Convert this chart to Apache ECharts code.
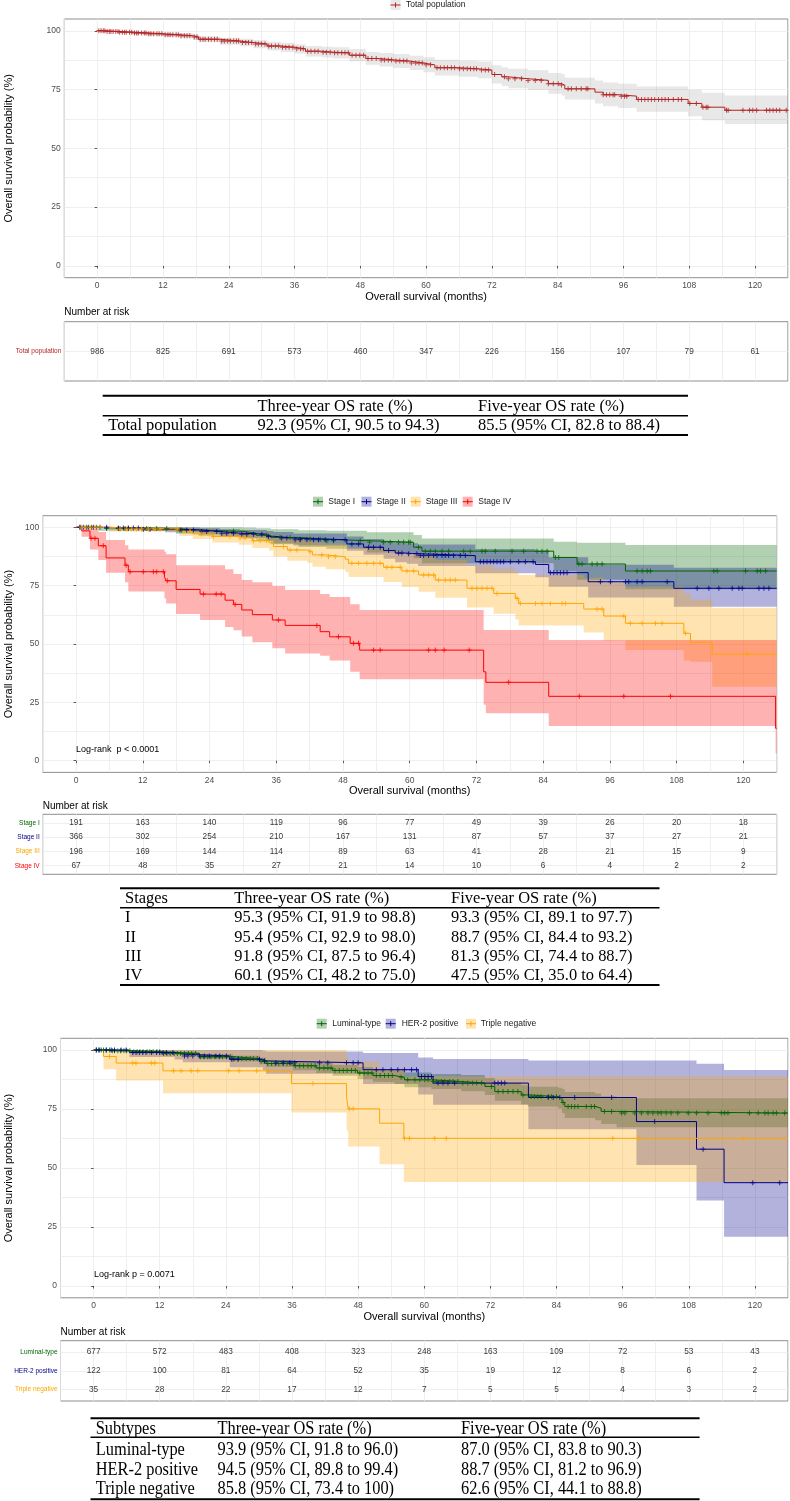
<!DOCTYPE html>
<html><head><meta charset="utf-8">
<script src="https://cdn.jsdelivr.net/npm/echarts@6/dist/echarts.min.js"></script>
<style>html,body{margin:0;padding:0;background:#fff}#c{width:790px;height:1501px}</style>
</head><body><div id="c"></div>
<script>
// ---------------- DATA ----------------
const xTicks = [0, 12, 24, 36, 48, 60, 72, 84, 96, 108, 120];
const yTicks = [0, 25, 50, 75, 100];
const xLabel = 'Overall survival (months)';
const yLabel = 'Overall survival probability (%)';

// Panel 1: total population
const p1Names = ['Total population'];
const p1Time = [0, 1.5, 4, 6.5, 9, 12, 15, 17.5, 18.5, 22.4, 26, 28.5, 31, 33.5, 36, 38, 41, 43, 46, 49, 51.5, 54, 57, 59.5, 61.6, 66, 69.5, 72, 73.8, 75, 78.6, 82.3, 84.7, 85.3, 90.8, 92.3, 95, 98.4, 107.8, 110.3, 114.5, 126];
const p1Surv = [100, 99.7, 99.4, 99.1, 98.7, 98.3, 97.9, 97.3, 96.4, 95.6, 95.0, 94.4, 93.5, 93.0, 92.3, 91.3, 90.9, 90.6, 89.6, 88.2, 87.6, 87.1, 86.3, 85.5, 84.3, 83.8, 83.3, 81.4, 80.4, 79.6, 78.9, 77.5, 76.9, 75.3, 73.9, 72.8, 72.2, 70.8, 69.1, 67.5, 66.2, 66.2];
const p1Low = [100, 99.4, 98.9, 98.4, 97.9, 97.4, 96.8, 96.1, 95.1, 94.1, 93.4, 92.6, 91.6, 91.0, 90.3, 89.1, 88.6, 88.2, 87.0, 85.5, 84.8, 84.2, 83.3, 82.4, 81.0, 80.4, 79.8, 77.6, 76.5, 75.6, 74.8, 73.2, 72.5, 70.8, 69.1, 67.9, 67.2, 65.6, 63.6, 61.9, 60.4, 60.4];
const p1Up = [100, 100, 99.9, 99.7, 99.5, 99.2, 99.0, 98.5, 97.7, 97.0, 96.6, 96.1, 95.3, 94.9, 94.3, 93.5, 93.2, 93.0, 92.2, 91.0, 90.5, 90.1, 89.4, 88.7, 87.7, 87.3, 86.9, 85.3, 84.5, 83.8, 83.2, 82.0, 81.5, 80.0, 78.9, 78.0, 77.5, 76.3, 74.9, 73.6, 72.5, 72.5];
const p1Cens = [0.3, 0.7, 1.1, 1.4, 1.8, 2.2, 2.5, 2.9, 3.4, 3.8, 4.1, 4.6, 5.0, 5.3, 5.9, 6.3, 6.8, 7.2, 7.5, 8.1, 8.6, 8.9, 9.4, 9.8, 10.3, 10.9, 11.3, 11.8, 12.4, 12.9, 13.3, 13.8, 14.4, 14.8, 15.3, 15.9, 16.4, 16.9, 17.7, 18.2, 18.8, 19.3, 19.7, 20.3, 20.8, 21.4, 21.9, 22.7, 23.2, 23.8, 24.3, 24.9, 25.4, 25.8, 26.5, 27.1, 27.6, 28.2, 28.9, 29.4, 30.0, 30.6, 31.3, 31.8, 32.5, 33.1, 33.8, 34.4, 35.0, 35.7, 36.4, 37.1, 37.6, 38.4, 39.0, 39.7, 40.3, 41.2, 41.8, 42.5, 43.3, 43.9, 44.6, 45.2, 45.8, 46.5, 47.2, 47.9, 48.6, 49.4, 50.1, 50.9, 51.8, 52.4, 53.1, 53.7, 54.5, 55.2, 55.9, 56.5, 57.3, 58.1, 58.7, 59.3, 60.0, 60.8, 62.0, 62.6, 63.3, 63.9, 64.6, 65.2, 66.1, 66.8, 67.5, 68.1, 68.7, 69.2, 70.1, 70.8, 71.4, 72.5, 74.3, 75.0, 76.2, 77.4, 78.6, 79.9, 81.0, 82.3, 83.2, 84.1, 84.7, 85.9, 86.5, 87.4, 88.3, 89.2, 89.5, 92.3, 92.9, 93.5, 94.1, 94.4, 95.6, 96.2, 96.6, 98.7, 99.3, 99.9, 100.5, 101.1, 101.7, 102.4, 103.0, 103.6, 104.2, 105.1, 106.0, 106.6, 108.1, 109.3, 110.5, 111.1, 111.4, 114.8, 115.1, 117.8, 119.0, 119.6, 120.3, 122.1, 122.7, 123.3, 123.9, 124.5, 125.7];
const p1Risk = [986, 825, 691, 573, 460, 347, 226, 156, 107, 79, 61];

// Panel 2: stages
const stageNames = ['Stage I', 'Stage II', 'Stage III', 'Stage IV'];
const st1Time = [0, 4, 18, 22, 30, 32.4, 35, 40, 45, 52.3, 60.7, 62.2, 85.9, 90.1, 98.8, 126];
const st1Surv = [100, 99.5, 98.9, 98.3, 97.5, 96.6, 95.7, 94.9, 94.3, 93.6, 91.5, 89.8, 87.1, 84.3, 81.3, 81.3];
const st1Low = [100, 98.5, 97.3, 96.4, 95.2, 94.0, 92.8, 91.6, 90.8, 89.2, 86.8, 84.6, 81.2, 77.6, 73.5, 73.5];
const st1Up = [100, 100, 100, 100, 99.9, 99.6, 99.2, 98.8, 98.5, 97.9, 96.7, 95.2, 93.8, 93.4, 92.4, 92.4];
const st1Cens = [0.7, 1.9, 2.8, 3.7, 5.5, 7.6, 7.9, 8.8, 9.4, 12.7, 14.5, 16.3, 19, 28.3, 34.3, 36.7, 38.5, 40.3, 42.1, 43.9, 45.1, 46.3, 51.1, 52.8, 55.3, 56.5, 58, 58.9, 59.8, 60.1, 61.6, 62.8, 63.7, 64.6, 65.8, 67, 69.7, 70.9, 73, 73.6, 75.4, 78.4, 80.5, 82.9, 83.8, 84.7, 86.2, 86.8, 90.4, 91, 92.8, 93.7, 94.6, 100.9, 101.8, 102.7, 103.3, 114.7, 115.3, 120.4, 122.5, 123.1, 124];
const st2Time = [0, 6, 12, 16, 22.3, 25.9, 29.5, 34.3, 35.5, 39.1, 48.7, 51.7, 55.3, 57.4, 59.5, 61.5, 71.8, 82.6, 85, 92.1, 107.5, 126];
const st2Surv = [100, 99.7, 99.2, 98.9, 98.2, 97.5, 97.1, 96.2, 95.4, 94.7, 92.9, 91.5, 90.1, 89.0, 88.7, 87.9, 85.3, 84.1, 80.6, 76.7, 73.9, 73.9];
const st2Low = [100, 99.2, 98.4, 97.9, 97.0, 96.1, 95.5, 94.3, 93.1, 92.2, 90.0, 88.3, 86.6, 85.0, 84.4, 83.4, 80.3, 78.6, 74.6, 70.0, 66.0, 66.0];
const st2Up = [100, 100, 100, 99.9, 99.6, 99.2, 98.9, 98.4, 98.0, 97.4, 96.1, 95.0, 94.0, 93.5, 93.2, 92.7, 90.7, 90.0, 87.2, 84.0, 82.7, 82.7];
const st2Cens = [0.7, 1.3, 2.2, 3.1, 4.3, 5.5, 7.6, 8.5, 9.4, 10.3, 11.2, 12.1, 13.3, 18.7, 19.9, 21.1, 22.6, 23.5, 25.3, 26.2, 27.1, 28.3, 29.8, 30.7, 31.9, 33.4, 34.6, 37, 37.9, 39.4, 40.3, 41.5, 42.7, 43.6, 44.8, 46.3, 48.4, 49.6, 50.8, 52.6, 53.5, 54.7, 56.2, 58, 58.6, 59.8, 61.3, 61.9, 62.5, 63.4, 64.3, 64.9, 65.8, 66.4, 67, 67.9, 69.1, 70, 72.7, 73.3, 73.9, 74.5, 75.1, 75.7, 76.3, 76.9, 78.1, 79.6, 80.8, 82.2, 85.3, 85.9, 86.5, 87.1, 87.7, 88.3, 94.3, 96.1, 98.8, 99.4, 100.9, 101.8, 106.3, 111.7, 113.8, 115.6, 118, 119.2, 119.8, 122.8, 123.7, 124.6];
const st3Time = [0, 6.1, 18.6, 21, 24.5, 29.3, 31.7, 34.7, 35.5, 38, 41.6, 42.5, 44.9, 48.4, 49, 55.3, 58.6, 61.6, 64.6, 70.3, 75.1, 79, 79.6, 91.3, 94.9, 98.8, 109.3, 110.5, 114.4, 126];
const st3Surv = [100, 99.3, 98.2, 97.2, 96.1, 95.4, 94.3, 93.4, 91.8, 90.3, 89.6, 88.2, 87.4, 86.4, 84.6, 82.9, 81.3, 79.6, 77.4, 73.9, 71.7, 69.6, 67.4, 65.0, 62.0, 58.9, 54.6, 50.7, 45.7, 45.7];
const st3Low = [100, 98.2, 96.3, 95.0, 93.5, 92.6, 91.2, 90.1, 87.5, 85.7, 84.8, 83.1, 82.1, 80.9, 78.7, 76.6, 74.4, 72.4, 69.8, 65.7, 63.0, 60.5, 57.9, 55.0, 51.5, 47.5, 43.0, 42.4, 31.7, 31.7];
const st3Up = [100, 100, 99.9, 99.4, 98.8, 98.3, 97.6, 97.0, 96.4, 95.2, 94.7, 93.6, 93.1, 92.2, 91.0, 89.8, 88.7, 87.5, 86.0, 83.8, 82.3, 80.9, 79.6, 78.4, 76.5, 74.6, 71.7, 69.0, 65.6, 65.6];
const st3Cens = [1, 1.6, 2.5, 3.4, 4.3, 7.9, 9.1, 10, 10.9, 11.8, 13, 14.2, 15.1, 18.2, 20.5, 22.6, 24.7, 27.7, 29.5, 30.4, 31.9, 33.1, 34.3, 37.3, 38.5, 39.7, 42.1, 44.2, 45.4, 46.6, 49.6, 50.8, 52.3, 53.5, 54.7, 55.9, 56.8, 58.3, 59.5, 60.7, 62.5, 63.4, 64.3, 65.2, 66.4, 67.3, 68.2, 71.2, 72.1, 73, 73.9, 74.8, 75.7, 79.3, 79.9, 82.6, 83.8, 85.3, 87.4, 88, 93.7, 94.6, 98.5, 99.7, 101.8, 104.2, 105.4, 109.6, 120.7];
const st4Time = [0, 1, 2.5, 4, 5.4, 8.8, 9.4, 15.9, 16.2, 18, 22.3, 26.8, 28.3, 29.8, 31.7, 35.3, 37.6, 43.9, 45.6, 49.3, 51, 73.3, 73.7, 85, 125.8, 126];
const st4Surv = [100, 98.5, 95.3, 92.1, 86.9, 83.8, 81.0, 78.8, 77.1, 73.4, 71.4, 68.8, 67.0, 64.6, 62.6, 60.3, 58.0, 55.3, 53.1, 50.3, 47.4, 38.1, 33.6, 27.6, 13.9, 13.9];
const st4Low = [100, 96.0, 90.5, 86.0, 80.5, 76.5, 72.5, 69.5, 67.4, 62.9, 60.3, 57.3, 55.9, 53.2, 50.8, 48.2, 45.9, 45.0, 43.0, 38.1, 34.9, 24.0, 20.3, 14.9, 3.2, 3.2];
const st4Up = [100, 100, 99.5, 98.0, 94.6, 92.3, 90.5, 89.5, 88.5, 83.8, 83.8, 82.0, 80.0, 77.4, 76.5, 74.9, 73.2, 71.5, 70.2, 67.1, 64.6, 56.0, 56.0, 51.7, 51.7, 51.7];
const st4Cens = [2.7, 3.4, 4.9, 9.0, 9.7, 12.1, 13.9, 14.5, 15.7, 16.4, 22.9, 25.2, 26.1, 28.6, 36.4, 43.3, 47.2, 49.9, 50.8, 53.5, 54.7, 63.4, 64.6, 66.2, 70.7, 77.8, 90.5, 98.5, 106.9];
const stRisk1 = [191, 163, 140, 119, 96, 77, 49, 39, 26, 20, 18];
const stRisk2 = [366, 302, 254, 210, 167, 131, 87, 57, 37, 27, 21];
const stRisk3 = [196, 169, 144, 114, 89, 63, 41, 28, 21, 15, 9];
const stRisk4 = [67, 48, 35, 27, 21, 14, 10, 6, 4, 2, 2];

// Panel 3: subtypes
const subNames = ['Luminal-type', 'HER-2 positive', 'Triple negative'];
const lumTime = [0, 3, 7.1, 12.2, 19.2, 25.3, 30.1, 31.3, 36.2, 40.4, 43.4, 47.9, 50.7, 54.6, 56.4, 61.3, 66.7, 71, 72.8, 77.6, 78.8, 84.3, 85, 85.5, 91, 92.1, 94.9, 126];
const lumSurv = [100, 99.7, 99.3, 98.6, 97.2, 96.4, 95.4, 94.3, 93.4, 92.4, 91.4, 90.3, 89.2, 88.5, 87.4, 86.7, 86.0, 84.6, 82.4, 81.0, 80.3, 79.6, 77.8, 76.1, 75.4, 74.0, 73.3, 73.3];
const lumLow = [100, 99.3, 98.8, 97.9, 96.2, 95.2, 94.0, 92.8, 91.5, 90.3, 89.1, 87.8, 86.5, 85.6, 84.3, 83.5, 82.6, 81.0, 78.5, 76.9, 76.1, 75.2, 73.2, 71.2, 70.3, 68.7, 67.3, 67.3];
const lumUp = [100, 100, 99.8, 99.3, 98.2, 97.6, 96.8, 95.8, 95.3, 94.5, 93.7, 92.8, 91.9, 91.4, 90.5, 89.9, 89.4, 88.2, 86.3, 85.1, 84.5, 84.0, 83.5, 82.2, 81.6, 80.4, 79.6, 79.6];
const lumCens = [0.5, 0.9, 1.4, 1.8, 2.3, 2.9, 3.4, 3.8, 4.4, 4.9, 5.5, 6.0, 6.6, 7.3, 7.9, 8.4, 9.0, 9.7, 10.2, 10.8, 11.5, 12.0, 12.7, 13.3, 13.9, 14.6, 15.2, 15.8, 16.5, 17.2, 17.8, 18.5, 19.4, 20.0, 20.7, 21.3, 22.0, 22.8, 23.4, 24.1, 24.8, 25.6, 26.3, 26.9, 27.7, 28.4, 29.0, 29.7, 30.4, 31.0, 31.6, 32.3, 33.0, 33.6, 34.4, 35.1, 35.8, 36.6, 37.4, 38.1, 38.9, 39.5, 40.2, 41.0, 41.8, 42.5, 43.1, 43.8, 44.6, 45.3, 46.0, 46.8, 47.5, 48.3, 49.1, 49.8, 50.5, 51.3, 52.0, 52.8, 53.5, 54.2, 55.8, 57, 58.3, 59.2, 60.1, 60.7, 61.6, 62.2, 63.1, 63.7, 64.6, 65.2, 66.1, 67, 67.9, 68.8, 69.5, 70.4, 72.2, 73.4, 74.3, 75.2, 76.1, 77, 77.9, 79.4, 80, 80.6, 81.2, 82.5, 83.1, 84, 85.2, 86.1, 86.7, 87.3, 87.9, 89.4, 90.3, 90.9, 92.7, 94, 95.8, 96.4, 98.2, 99.4, 100.6, 101.5, 102.4, 103, 103.9, 104.8, 106, 107.9, 109.4, 111.5, 113.9, 114.5, 115.1, 119, 120.6, 121.8, 122.4, 123.3, 123.9, 125.4];
const herTime = [0, 6.5, 14.7, 16.2, 24.7, 30.7, 31.3, 48.9, 58.9, 61.6, 78.9, 98.5, 109.4, 114.4, 126];
const herSurv = [100, 99.0, 98.3, 97.5, 96.1, 95.4, 94.6, 91.7, 88.8, 86.0, 79.9, 69.7, 58.0, 43.8, 43.8];
const herLow = [100, 97.1, 96.0, 94.8, 92.7, 91.6, 90.0, 85.6, 81.2, 76.8, 66.5, 51.3, 36.2, 20.9, 20.9];
const herUp = [100, 100, 100, 100, 100, 99.7, 99.4, 98.8, 96.9, 96.2, 95.6, 95.6, 94.2, 91.6, 91.6];
const herCens = [0.5, 1.1, 2.3, 3.2, 3.8, 5, 5.9, 7.1, 7.7, 8.3, 8.9, 9.5, 10.5, 11.4, 12, 12.6, 13.2, 14.4, 16.5, 17.1, 18, 19.2, 20.1, 21, 22.2, 22.9, 24.1, 25, 25.3, 26.2, 30.1, 31, 33.1, 34.4, 35.6, 36.5, 41, 42.5, 45.9, 47.1, 48, 51.3, 52.5, 54, 55.2, 56.4, 57.7, 58.6, 59.5, 60.1, 60.7, 61.3, 62.5, 63.4, 64.3, 65.5, 72.8, 73.4, 74, 74.6, 82.5, 83.4, 84.6, 87.3, 94, 101.8, 110.6, 119.6, 124.5];
const tnTime = [0, 1.8, 4.1, 12.6, 35.9, 45.9, 46.2, 51.9, 56.3, 126];
const tnSurv = [100, 97.3, 94.5, 91.2, 85.8, 80.3, 75.1, 69.0, 62.6, 62.6];
const tnLow = [100, 91.9, 87.1, 81.7, 73.5, 66.0, 59.1, 51.6, 44.1, 44.1];
const tnUp = [100, 100, 100, 100, 100, 97.5, 95.1, 92.0, 88.8, 88.8];
const tnCens = [2.9, 7.1, 7.7, 10.5, 11.1, 14.5, 15.9, 17.7, 18.9, 24.5, 26.4, 29.6, 31.6, 39.8, 46.4, 47.1, 56.4, 57.3, 61.9, 64, 94.2, 99, 117.8];
const subRisk1 = [677, 572, 483, 408, 323, 248, 163, 109, 72, 53, 43];
const subRisk2 = [122, 100, 81, 64, 52, 35, 19, 12, 8, 6, 2];
const subRisk3 = [35, 28, 22, 17, 12, 7, 5, 5, 4, 3, 2];

const logRank2 = 'Log-rank  p < 0.0001';
const logRank3 = 'Log-rank p = 0.0071';

// OS rate tables
const tab1Header = ['', 'Three-year OS rate (%)', 'Five-year OS rate (%)'];
const tab1Rows = [['Total population', '92.3 (95% CI, 90.5 to 94.3)', '85.5 (95% CI, 82.8 to 88.4)']];
const tab2Header = ['Stages', 'Three-year OS rate (%)', 'Five-year OS rate (%)'];
const tab2Rows = [
  ['I', '95.3 (95% CI, 91.9 to 98.8)', '93.3 (95% CI, 89.1 to 97.7)'],
  ['II', '95.4 (95% CI, 92.9 to 98.0)', '88.7 (95% CI, 84.4 to 93.2)'],
  ['III', '91.8 (95% CI, 87.5 to 96.4)', '81.3 (95% CI, 74.4 to 88.7)'],
  ['IV', '60.1 (95% CI, 48.2 to 75.0)', '47.5 (95% CI, 35.0 to 64.4)']];
const tab3Header = ['Subtypes', 'Three-year OS rate (%)', 'Five-year OS rate (%)'];
const tab3Rows = [
  ['Luminal-type', '93.9 (95% CI, 91.8 to 96.0)', '87.0 (95% CI, 83.8 to 90.3)'],
  ['HER-2 positive', '94.5 (95% CI, 89.8 to 99.4)', '88.7 (95% CI, 81.2 to 96.9)'],
  ['Triple negative', '85.8 (95% CI, 73.4 to 100)', '62.6 (95% CI, 44.1 to 88.8)']];

// ---------------- LAYOUT / STYLE ----------------
const SANS = '"Liberation Sans", Arial, sans-serif';
const SERIF = '"Liberation Serif", "Times New Roman", serif';
const PLUS = 'path://M-1,-0.2L1,-0.2L1,0.2L-1,0.2Z M-0.2,-1L0.2,-1L0.2,1L-0.2,1Z';
const GRID_C = '#ebebeb';

const panels = [
  { km: { left: 64.3, top: 19, width: 723.6, height: 258.7 }, risk: { left: 64.3, top: 321.7, width: 723.6, height: 59.3 },
    legendY: 5, riskTitleY: 312.7, logRank: null,
    groups: [ { name: p1Names[0], T: p1Time, S: p1Surv, L: p1Low, U: p1Up, C: p1Cens, risk: p1Risk, color: '#B22222', band: 'rgba(150,150,150,0.22)', keyX: 395.5, textX: 406 } ] },
  { km: { left: 42.7, top: 515.7, width: 734, height: 256.7 }, risk: { left: 42.7, top: 814.3, width: 734, height: 60 },
    legendY: 501.7, riskTitleY: 806, logRank: { text: logRank2, x: 76, y: 749.3 },
    groups: [
      { name: stageNames[0], T: st1Time, S: st1Surv, L: st1Low, U: st1Up, C: st1Cens, risk: stRisk1, color: '#006400', band: 'rgba(0,100,0,0.3)', keyX: 318, textX: 328.3 },
      { name: stageNames[1], T: st2Time, S: st2Surv, L: st2Low, U: st2Up, C: st2Cens, risk: stRisk2, color: '#00008B', band: 'rgba(0,0,139,0.3)', keyX: 366.5, textX: 376.5 },
      { name: stageNames[2], T: st3Time, S: st3Surv, L: st3Low, U: st3Up, C: st3Cens, risk: stRisk3, color: '#FFA500', band: 'rgba(255,165,0,0.3)', keyX: 415.7, textX: 425.7 },
      { name: stageNames[3], T: st4Time, S: st4Surv, L: st4Low, U: st4Up, C: st4Cens, risk: stRisk4, color: '#FF0000', band: 'rgba(255,0,0,0.3)', keyX: 467.7, textX: 478.3 } ] },
  { km: { left: 60.5, top: 1038.3, width: 727.5, height: 259.5 }, risk: { left: 60.5, top: 1340.7, width: 727.5, height: 60.3 },
    legendY: 1023.7, riskTitleY: 1332.3, logRank: { text: logRank3, x: 94, y: 1275 },
    groups: [
      { name: subNames[0], T: lumTime, S: lumSurv, L: lumLow, U: lumUp, C: lumCens, risk: subRisk1, color: '#006400', band: 'rgba(0,100,0,0.3)', keyX: 321.7, textX: 332.3 },
      { name: subNames[1], T: herTime, S: herSurv, L: herLow, U: herUp, C: herCens, risk: subRisk2, color: '#00008B', band: 'rgba(0,0,139,0.3)', keyX: 390.7, textX: 401.7 },
      { name: subNames[2], T: tnTime, S: tnSurv, L: tnLow, U: tnUp, C: tnCens, risk: subRisk3, color: '#FFA500', band: 'rgba(255,165,0,0.3)', keyX: 471, textX: 480.7 } ] }
];

const tables = [
  { header: tab1Header, rows: tab1Rows, left: 102.7, right: 688, top: 395.7, mid: 415.7, bottom: 435, headY: 406.3, rowY: [426], cols: [108.3, 257.5, 478], size: 16.5, sx: 1 },
  { header: tab2Header, rows: tab2Rows, left: 120, right: 659.5, top: 888.3, mid: 907.7, bottom: 985, headY: 898, rowY: [917.7, 937.3, 956.7, 975.7], cols: [125, 234.3, 451], size: 17.5, sx: 0.94 },
  { header: tab3Header, rows: tab3Rows, left: 90.5, right: 699.6, top: 1418.3, mid: 1437.3, bottom: 1499.2, headY: 1429.5, rowY: [1450, 1470, 1489.5], cols: [95.7, 217.5, 461], size: 18, sx: 0.91 }
];

// ---------------- BUILD ----------------
function survAt(T, S, t) { let v = S[0]; for (let i = 0; i < T.length; i++) { if (T[i] <= t) v = S[i]; else break; } return v; }
function range(a, b, s) { const r = []; for (let v = a; v <= b + 1e-9; v += s) r.push(+v.toFixed(4)); return r; }

const grids = [], xAxes = [], yAxes = [], series = [], graphics = [];
const gridBase = { show: true, borderColor: '#8f8f8f', borderWidth: 1, containLabel: false, outerBoundsMode: 'none' };
const TXT_Z = 100;

panels.forEach((p, pi) => {
  const gk = grids.length;
  grids.push(Object.assign({}, gridBase, p.km));
  const xa = xAxes.length;
  xAxes.push({ gridIndex: gk, type: 'value', min: -6, max: 126, position: 'bottom',
    axisLine: { show: false }, axisTick: { show: true, length: 2.5, customValues: xTicks, lineStyle: { color: '#333', width: 0.8 } },
    axisLabel: { customValues: xTicks, fontSize: 8.5, color: '#4d4d4d', margin: 3.5, fontFamily: SANS },
    splitLine: { show: false }, name: xLabel, nameLocation: 'middle', nameGap: 13,
    nameTextStyle: { fontSize: 11, color: '#000', fontFamily: SANS } });
  xAxes.push({ gridIndex: gk, type: 'value', min: -6, max: 126, interval: 6, position: 'top',
    axisLine: { show: false }, axisTick: { show: false }, axisLabel: { show: false },
    splitLine: { show: true, lineStyle: { color: GRID_C, width: 0.8 } } });
  const ya = yAxes.length;
  yAxes.push({ gridIndex: gk, type: 'value', min: -5, max: 105, position: 'left',
    axisLine: { show: false }, axisTick: { show: true, length: 2.5, customValues: yTicks, lineStyle: { color: '#333', width: 0.8 } },
    axisLabel: { customValues: yTicks, fontSize: 8.5, color: '#4d4d4d', margin: 3.5, fontFamily: SANS },
    splitLine: { show: false } });
  yAxes.push({ gridIndex: gk, type: 'value', min: -5, max: 105, position: 'right',
    axisLine: { show: false }, axisTick: { show: false, customValues: range(0, 100, 12.5) }, axisLabel: { show: false },
    splitLine: { show: true, lineStyle: { color: GRID_C, width: 0.8 } } });
  // y-axis title (rotated), centred on the panel
  graphics.push({ type: 'text', silent: true, z: TXT_Z, x: 9, y: p.km.top + p.km.height / 2, rotation: Math.PI / 2,
    style: { text: yLabel, font: '11px ' + SANS, fill: '#000', align: 'center', verticalAlign: 'middle' } });

  // confidence bands: one step polygon per group, mapped through the axes
  p.groups.forEach((g) => {
    series.push({ type: 'custom', xAxisIndex: xa, yAxisIndex: ya, silent: true, z: 1, clip: true,
      data: [[g.T[0], g.S[0]]], encode: { x: 0, y: 1 },
      renderItem: (params, api) => {
        const pts = [], n = g.T.length;
        for (let i = 0; i < n - 1; i++) { pts.push(api.coord([g.T[i], g.U[i]])); pts.push(api.coord([g.T[i + 1], g.U[i]])); }
        for (let i = n - 2; i >= 0; i--) { pts.push(api.coord([g.T[i + 1], g.L[i]])); pts.push(api.coord([g.T[i], g.L[i]])); }
        return { type: 'polygon', shape: { points: pts }, style: { fill: g.band } };
      } });
  });
  p.groups.forEach((g) => {
    series.push({ type: 'line', name: g.name, xAxisIndex: xa, yAxisIndex: ya, step: 'end', symbol: 'none', z: 3,
      lineStyle: { color: g.color, width: 1 }, data: g.T.map((t, i) => [t, g.S[i]]) });
  });
  p.groups.forEach((g) => {
    series.push({ type: 'scatter', xAxisIndex: xa, yAxisIndex: ya, symbol: PLUS, symbolSize: 5, z: 4, silent: true,
      itemStyle: { color: g.color }, data: g.C.map(t => [t, survAt(g.T, g.S, t)]) });
  });

  // risk table
  const n = p.groups.length;
  const gr = grids.length;
  grids.push(Object.assign({}, gridBase, p.risk));
  const rxa = xAxes.length;
  xAxes.push({ gridIndex: gr, type: 'value', min: -6, max: 126, interval: 6,
    axisLine: { show: false }, axisTick: { show: false }, axisLabel: { show: false },
    splitLine: { show: true, lineStyle: { color: GRID_C, width: 0.8 } } });
  const rya = yAxes.length;
  const rich = {};
  p.groups.forEach((g, gi) => { rich['r' + gi] = { color: g.color, fontSize: 6.5, fontFamily: SANS }; });
  const rows = range(1, n, 1);
  yAxes.push({ gridIndex: gr, type: 'value', min: 0.4, max: n + 0.6, inverse: true,
    axisLine: { show: false }, axisTick: { show: false, customValues: rows },
    axisLabel: { customValues: rows, margin: 3, formatter: v => '{r' + (Math.round(v) - 1) + '|' + p.groups[Math.round(v) - 1].name + '}', rich: rich },
    splitLine: { show: true, lineStyle: { color: GRID_C, width: 0.8 } } });
  p.groups.forEach((g, gi) => {
    series.push({ type: 'scatter', xAxisIndex: rxa, yAxisIndex: rya, symbolSize: 1, silent: true, z: 5,
      itemStyle: { color: 'rgba(0,0,0,0)' },
      label: { show: true, position: 'inside', formatter: q => String(q.value[2]), fontSize: 8.3, color: '#000', fontFamily: SANS },
      data: xTicks.map((t, i) => [t, gi + 1, g.risk[i]]) });
  });

  // legend keys
  p.groups.forEach((g) => {
    const cx = g.keyX, cy = p.legendY;
    graphics.push({ type: 'rect', silent: true, z: TXT_Z, shape: { x: cx - 5, y: cy - 5, width: 10, height: 10 }, style: { fill: g.band } });
    graphics.push({ type: 'line', silent: true, z: TXT_Z, shape: { x1: cx - 5, y1: cy, x2: cx + 5, y2: cy }, style: { stroke: g.color, lineWidth: 1 } });
    graphics.push({ type: 'line', silent: true, z: TXT_Z, shape: { x1: cx, y1: cy - 2.5, x2: cx, y2: cy + 2.5 }, style: { stroke: g.color, lineWidth: 1 } });
    graphics.push({ type: 'text', silent: true, z: TXT_Z, x: g.textX, y: cy, style: { text: g.name, font: '8.5px ' + SANS, fill: '#1a1a1a', align: 'left', verticalAlign: 'middle' } });
  });
  graphics.push({ type: 'text', silent: true, z: TXT_Z, x: p.risk.left, y: p.riskTitleY, style: { text: 'Number at risk', font: '10px ' + SANS, fill: '#000', align: 'left', verticalAlign: 'middle' } });
  if (p.logRank) graphics.push({ type: 'text', silent: true, z: TXT_Z, x: p.logRank.x, y: p.logRank.y, style: { text: p.logRank.text, font: '9px ' + SANS, fill: '#000', align: 'left', verticalAlign: 'middle' } });
});

tables.forEach(tb => {
  graphics.push({ type: 'line', silent: true, z: TXT_Z, shape: { x1: tb.left, y1: tb.top, x2: tb.right, y2: tb.top }, style: { stroke: '#000', lineWidth: 2 } });
  graphics.push({ type: 'line', silent: true, z: TXT_Z, shape: { x1: tb.left, y1: tb.mid, x2: tb.right, y2: tb.mid }, style: { stroke: '#000', lineWidth: 1.4 } });
  graphics.push({ type: 'line', silent: true, z: TXT_Z, shape: { x1: tb.left, y1: tb.bottom, x2: tb.right, y2: tb.bottom }, style: { stroke: '#000', lineWidth: 2 } });
  const put = (txt, x, y) => { if (!txt) return; graphics.push({ type: 'text', silent: true, z: TXT_Z, x: x, y: y, scaleX: tb.sx, style: { text: txt, font: tb.size + 'px ' + SERIF, fill: '#000', align: 'left', verticalAlign: 'middle' } }); };
  tb.header.forEach((h, ci) => put(h, tb.cols[ci], tb.headY));
  tb.rows.forEach((r, ri) => r.forEach((c, ci) => put(c, tb.cols[ci], tb.rowY[ri])));
});

const chart = echarts.init(document.getElementById('c'), null, { renderer: 'canvas' });
chart.setOption({
  animation: false,
  backgroundColor: '#fff',
  textStyle: { fontFamily: SANS },
  grid: grids, xAxis: xAxes, yAxis: yAxes, series: series,
  graphic: { elements: graphics }
});
</script></body></html>
